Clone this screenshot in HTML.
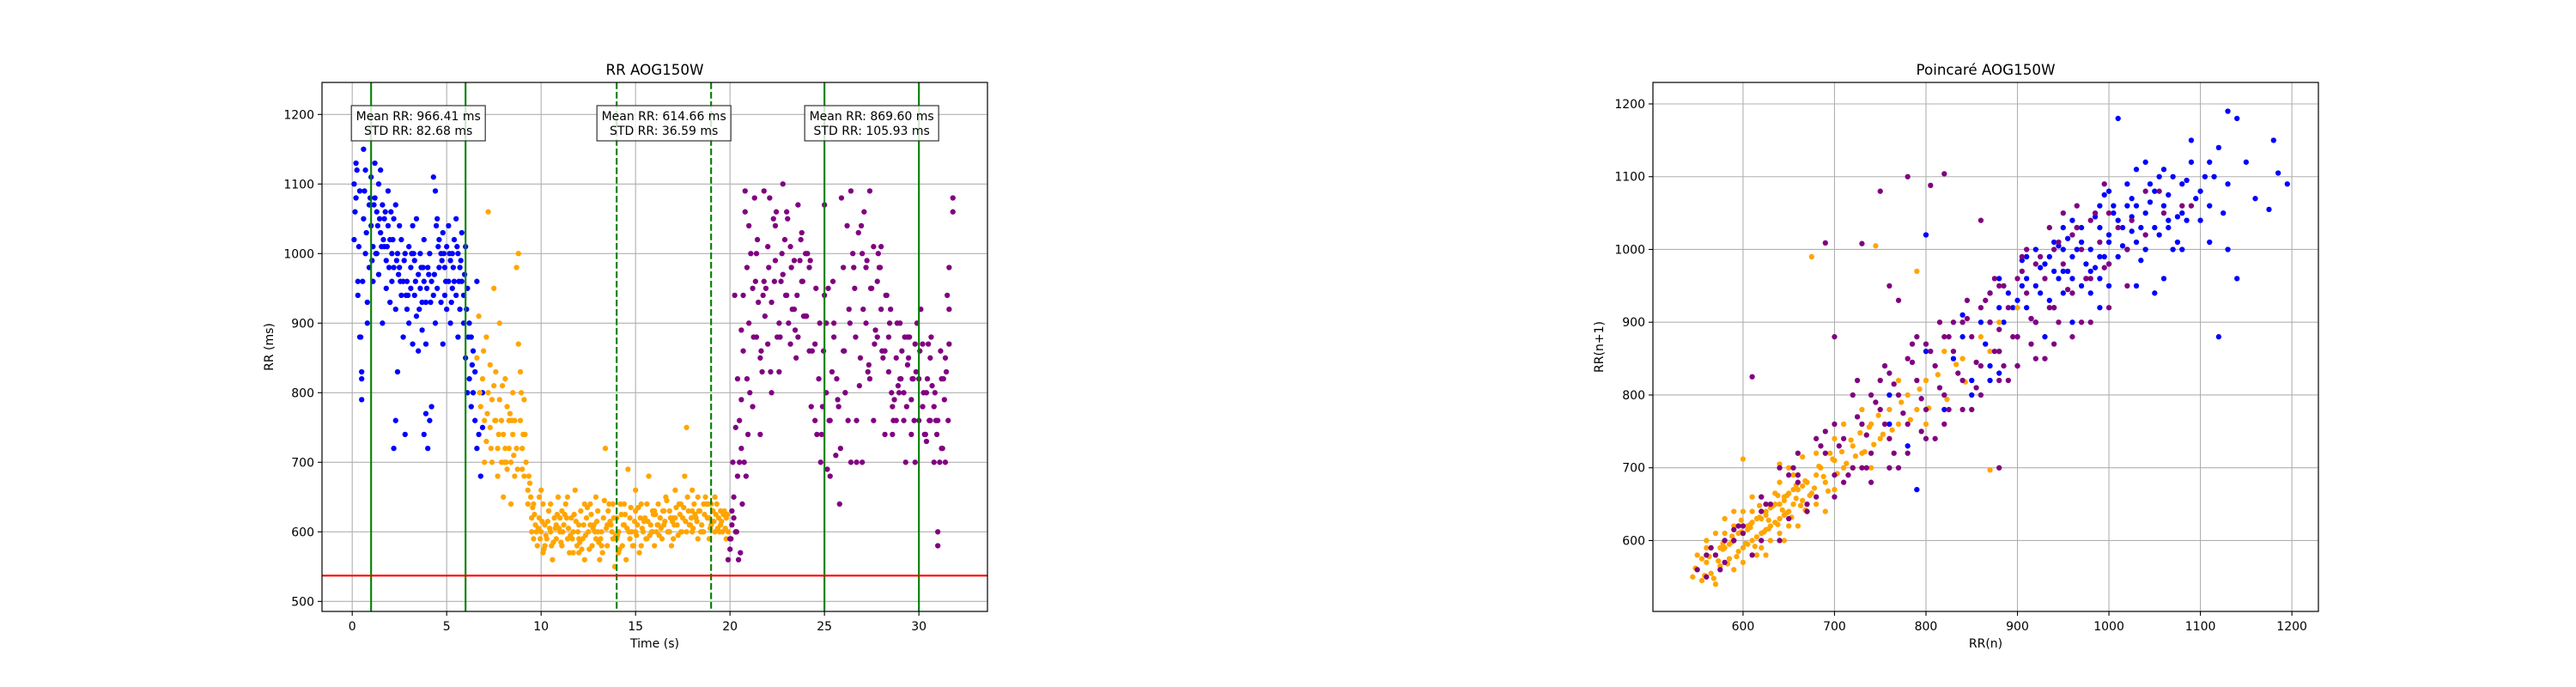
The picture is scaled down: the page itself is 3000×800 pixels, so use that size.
<!DOCTYPE html>
<html><head><meta charset="utf-8"><title>RR AOG150W</title>
<style>
html,body{margin:0;padding:0;background:#fff;}
svg{display:block;font-family:"DejaVu Sans","Liberation Sans",sans-serif;}
</style></head>
<body>
<svg id="fig" width="3000" height="800" viewBox="0 0 3000 800" xmlns="http://www.w3.org/2000/svg">
<rect width="3000" height="800" fill="#fff"/>
<g id="left"></g>
<g id="right"></g>
</svg>
<script>
// ---- RR time series data ----
const blueT=[0.1,0.1,0.2,0.2,0.3,0.3,0.4,0.4,0.5,0.5,0.6,0.6,0.7,0.7,0.8,0.8,0.9,0.9,1.0,1.0,1.1,1.1,1.2,1.2,1.3,1.3,1.4,1.4,1.5,1.5,1.6,1.6,1.7,1.7,1.8,1.8,1.9,1.9,2.0,2.0,2.1,2.1,2.2,2.2,2.3,2.3,2.4,2.4,2.5,2.5,2.6,2.6,2.7,2.7,2.8,2.8,2.9,2.9,3.0,3.0,3.1,3.1,3.2,3.2,3.3,3.3,3.4,3.4,3.5,3.5,3.6,3.6,3.7,3.7,3.8,3.8,3.9,3.9,4.0,4.0,4.1,4.1,4.2,4.2,4.3,4.3,4.4,4.4,4.5,4.5,4.6,4.6,4.7,4.7,4.8,4.8,4.9,4.9,5.0,5.0,5.1,5.1,5.2,5.2,5.3,5.3,5.4,5.4,5.5,5.5,5.6,5.6,5.7,5.7,5.8,5.8,5.9,5.9,6.0,6.0,6.1,6.1,6.2,6.2,6.3,6.3,6.4,6.4,6.5,6.5,6.6,6.6,6.7,6.8,6.9,6.9,2.2,2.3,3.8,3.9,0.45,0.5];
const blueRR=[1100,1020,1130,1080,960,940,1090,880,820,790,1150,1050,1120,1000,930,900,1070,980,1110,1040,1010,960,1130,1080,1060,1000,1100,970,1120,1030,1070,900,1050,1010,990,950,1040,1090,1020,930,1000,960,1050,980,1070,920,1000,830,980,1040,940,1020,960,880,1000,740,960,920,1010,900,980,950,1040,870,940,990,1050,910,970,860,1000,950,930,890,960,1020,930,870,980,720,1000,760,960,780,940,1110,900,1090,1050,950,1020,980,1000,930,1030,870,980,940,1010,920,960,1040,990,900,1000,950,1020,960,1050,940,1000,880,980,920,1030,960,940,900,1010,850,950,800,900,820,880,780,860,800,760,830,960,720,740,680,800,750,720,760,740,770,880,830];
const blueT2=[0.15,0.35,0.55,0.75,0.95,1.15,1.35,1.55,1.75,1.95,2.15,2.35,2.55,2.75,2.95,3.15,3.35,3.55,3.75,3.95,4.15,4.35,4.55,4.75,4.95,5.15,5.35,5.55,5.75,5.95,6.15,6.35,1.25,1.45,1.65,2.05,2.45,2.85,3.25,3.65,4.05,4.45,4.85,5.25,5.65,6.05,0.25,0.65,1.05,1.85];
const blueRR2=[1060,1010,960,1030,1080,1070,1040,1010,1060,980,1020,990,960,990,940,1000,960,920,980,950,930,970,1010,990,960,1000,980,1010,990,970,880,840,1000,1050,1020,1060,970,940,1000,980,970,1040,1000,930,960,920,1120,1090,990,1010];
const orangeT=[6.6,6.7,6.8,6.9,7.0,7.0,7.1,7.1,7.2,7.2,7.3,7.3,7.4,7.4,7.5,7.5,7.6,7.6,7.7,7.7,7.8,7.8,7.9,7.9,8.0,8.0,8.1,8.1,8.2,8.2,8.3,8.3,8.4,8.4,8.5,8.5,8.6,8.6,8.7,8.7,8.8,8.8,8.9,8.9,9.0,9.0,9.1,9.1,9.2,9.3,9.3,9.4,9.5,9.5,9.6,9.7,9.8,9.9,10.0,10.1,10.1,10.2,10.3,10.4,10.5,10.6,10.7,10.8,10.9,11.0,11.1,11.2,11.3,11.4,11.5,11.6,11.7,11.8,11.9,12.0,12.1,12.2,12.3,12.4,12.5,12.6,12.7,12.8,12.9,13.0,13.1,13.2,13.3,13.4,13.5,13.6,13.7,13.8,13.9,14.0,14.1,14.2,14.3,14.4,14.5,14.6,14.7,14.8,14.9,15.0,15.1,15.2,15.3,15.4,15.5,15.6,15.7,15.8,15.9,16.0,16.1,16.2,16.3,16.4,16.5,16.6,16.7,16.8,16.9,17.0,17.1,17.2,17.3,17.4,17.5,17.6,17.7,17.8,17.9,18.0,18.1,18.2,18.3,18.4,18.5,18.6,18.7,18.8,18.9,19.0,19.1,19.2,19.3,19.4,19.5,19.6,19.7,19.8,19.9,9.6,9.9,10.2,10.5,10.8,11.1,11.4,11.7,12.0,12.3,12.6,12.9,13.2,13.5,13.8,14.1,14.4,14.7,15.0,15.3,15.6,15.9,16.2,16.5,16.8,17.1,17.4,17.7,18.0,18.3,18.6,18.9,19.2,19.5,19.8,10.0,11.0,12.0,13.0,14.0,15.0,16.0,17.0,18.0,19.0,10.35,10.65,10.95,11.25,11.55,11.85,12.15,12.45,12.75,13.05,13.35,13.65,13.95,14.25,14.55,14.85,15.15,15.45,15.75,16.05,16.35,16.65,16.95,17.25,17.55,17.85,18.15,18.45,18.75,19.05,19.35,19.65];
const orangeRR=[850,910,780,820,760,700,880,730,1060,800,840,750,790,700,950,810,830,760,720,680,900,790,760,700,740,650,820,720,780,690,760,720,700,640,800,740,760,680,980,720,1000,870,830,760,720,690,790,680,700,660,640,670,620,600,640,610,580,620,600,640,570,610,590,630,600,560,620,590,650,600,580,610,640,590,570,620,600,660,580,610,630,590,560,620,600,640,580,610,590,630,560,600,620,720,580,640,610,590,550,620,600,640,580,610,560,690,620,600,580,630,610,570,640,600,620,590,680,610,630,580,600,640,620,590,610,650,600,630,580,620,660,610,640,600,620,680,750,630,610,600,640,620,590,630,610,600,650,620,590,610,630,600,640,620,610,600,630,620,600,590,650,580,640,610,630,650,570,590,640,610,650,580,610,640,570,640,590,600,580,640,600,610,630,600,620,640,600,630,650,640,620,650,630,590,660,620,570,600,590,660,630,590,660,640,615,585,605,625,595,615,575,635,605,585,645,615,595,625,605,580,635,615,595,625,605,645,615,595,635,610,625,600,640,615,605,625];
const orangeT2=[6.75,6.95,7.15,7.35,7.55,7.75,7.95,8.15,8.35,8.55,8.75,8.95,9.15,9.35,9.45,9.55,9.65,9.75,9.85,9.95,10.05,10.15,10.25,10.45,10.55,10.75,10.85,11.05,11.15,11.35,11.45,11.65,11.75,11.95,12.05,12.25,12.35,12.55,12.65,12.85,12.95,13.15,13.25,13.45,13.55,13.75,13.85,14.05,14.15,14.35,14.45,14.65,14.75,14.95,15.05,15.25,15.35,15.55,15.65,15.85,15.95,16.15,16.25,16.45,16.55,16.75,16.85,17.05,17.15,17.35,17.45,17.65,17.75,17.95,18.05,18.25,18.35,18.55,18.65,18.85,18.95,19.15,19.25,19.45,19.55,19.75,19.85,9.05,8.45,8.05];
const orangeRR2=[800,860,770,720,760,740,810,700,770,710,690,800,740,680,650,635,625,600,605,590,615,575,595,605,580,605,625,585,600,620,605,590,625,600,585,610,595,575,625,600,615,590,570,605,630,600,620,595,575,610,625,600,635,615,595,620,605,590,615,600,625,610,595,630,615,600,620,610,635,625,600,615,650,620,605,615,630,600,625,640,605,615,625,600,615,605,625,740,760,700];
const purpleT=[19.9,20.0,20.0,20.1,20.1,20.2,20.2,20.3,20.4,20.5,20.5,20.6,20.6,20.7,20.7,20.8,20.8,20.9,20.9,21.0,21.0,21.2,21.2,21.4,21.4,21.6,21.6,21.8,21.8,22.0,22.0,22.2,22.2,22.4,22.4,22.6,22.6,22.8,22.8,23.0,23.0,23.2,23.2,23.4,23.4,23.6,23.6,23.8,23.8,24.0,24.0,24.2,24.2,24.5,24.5,24.6,24.7,24.8,24.9,25.0,25.0,25.1,25.1,25.2,25.3,25.3,25.4,25.5,25.6,25.7,25.8,25.9,26.0,26.0,26.1,26.2,26.3,26.4,26.5,26.6,26.7,26.8,26.9,27.0,27.0,27.2,27.2,27.4,27.4,27.6,27.6,27.8,27.8,28.0,28.0,28.2,28.2,28.4,28.4,28.6,28.6,28.8,28.8,29.0,29.0,29.2,29.2,29.4,29.4,29.6,29.6,29.8,29.8,30.0,30.0,30.2,30.2,30.4,30.4,30.6,30.6,30.8,30.8,31.0,31.0,31.0,31.2,31.2,31.4,31.4,31.6,31.6,31.8,31.8,31.6,21.1,21.3,22.1,23.1,24.1,26.4,27.1,28.1,29.1,30.1,21.5,21.7,21.9,22.3,22.5,22.7,22.9,23.3,23.5,23.7,23.9,24.3,25.5,26.1,26.7,27.3,27.5,27.7,27.9,28.3,28.5,28.7,28.9,29.3,29.5,29.7,29.9,30.3,30.5,30.7,30.9,31.1,31.3,31.5,20.3,20.4,20.6];
const purpleRR=[560,575,590,610,630,620,650,600,680,700,760,720,790,860,940,1060,1090,980,820,1040,900,780,950,1000,880,850,740,1090,960,1010,870,800,930,1040,990,900,830,1100,970,1060,940,870,1010,990,920,1070,880,960,1030,1000,910,980,860,870,760,740,820,700,780,1070,940,900,800,950,680,760,830,880,710,790,640,1080,980,860,800,1040,920,700,1000,950,760,1030,850,700,1000,980,900,1090,820,1010,760,960,880,1010,920,860,740,830,880,780,740,850,760,900,820,760,800,880,840,740,790,870,700,760,820,870,780,800,730,850,760,780,700,760,600,580,820,720,850,700,920,980,1060,1080,870,1000,1080,1080,900,1000,1090,1060,850,860,920,930,830,950,1050,880,960,1020,920,850,990,910,780,900,800,700,830,950,890,980,940,920,790,810,700,880,820,900,740,870,810,760,700,820,940,750,820,890,560,570];
const purpleT2=[20.45,20.55,20.65,20.75,20.85,20.95,21.05,21.25,21.35,21.45,21.65,21.75,21.85,22.05,22.15,22.35,22.45,22.65,22.75,22.95,23.05,23.25,23.45,23.55,23.75,23.85,24.05,24.25,24.35,24.55,24.75,24.85,24.95,25.15,25.25,25.45,25.65,25.75,25.85,26.05,26.25,26.35,26.55,26.65,26.85,26.95,27.05,27.25,27.35,27.45,27.65,27.85,27.95,28.05,28.25,28.45,28.55,28.65,28.85,28.95,29.05,29.25,29.35,29.45,29.65,29.75,29.85,30.05,30.25,30.35,30.45,30.55,30.65,30.85,30.95,31.15,31.25,31.35,31.45,31.55,20.15,20.25,20.35,20.05];
const purpleRR2=[640,700,680,740,800,880,960,1020,860,940,910,980,830,960,1060,880,1000,940,1050,980,890,940,1020,960,910,990,860,950,900,740,860,690,760,960,820,780,720,860,760,900,980,880,810,1040,920,990,840,950,870,1000,980,860,940,900,800,760,900,800,820,880,780,850,820,760,830,860,800,740,820,760,880,800,740,860,720,790,830,760,700,940,600,590,640,580];
// ---- Poincaré data ----
const pBlueX=[760,780,800,820,840,850,860,870,880,880,890,900,900,910,920,920,930,940,940,950,950,960,960,970,970,980,980,990,990,1000,1000,1010,1010,1020,1020,1030,1040,1040,1050,1050,1060,1070,1070,1080,1090,1100,1110,1120,1130,1140,1150,1180,1185,1195,1175,1160,1090,1110,1120,1010,1050,990,960,930,900,870,850,830,880,920,960,1000,1030,1080,1060,1030,990,950,910,870,840,980,1000,1020,1040,1060,1110,1130,1100,1080,940,970,1000,1030,880,1140,1130,800,790,760,870,910,950,990,1025,1065];
const pBlueY=[800,730,860,780,880,820,900,840,920,860,940,880,930,960,900,950,980,920,970,1000,940,990,960,1010,950,1000,970,1030,960,1010,980,1040,990,1060,1000,1010,1050,1000,1080,1030,1060,1000,1100,1050,1120,1080,1060,1140,1190,1180,1120,1150,1105,1090,1055,1070,1150,1010,880,1180,940,920,900,880,840,820,800,850,960,1000,1040,1080,1110,1000,960,950,1060,1030,990,940,910,940,950,1090,1120,1110,1120,1090,1040,1090,1010,1030,1020,1060,830,960,1000,1020,670,760,900,920,970,990,1025,1040];
const pBlueX2=[905,915,925,935,945,955,965,975,985,995,1005,1015,1025,1035,1045,1055,1065,1075,1085,1095,935,955,975,995,1015,1035,1055,1075,965,985,1005,1025,945,925,905,895,885,865,1045,1065,1105,1125,1085,1115];
const pBlueY2=[950,905,975,930,1005,970,1030,980,1045,990,1050,1005,1070,1030,1065,1020,1075,1045,1095,1070,990,1015,960,1075,1030,985,1100,1010,1000,975,1060,1045,960,940,985,920,900,870,1090,1030,1100,1050,1040,1100];
const pOrangeX=[545,555,560,565,570,575,580,585,590,595,600,600,605,610,610,615,620,620,625,630,630,635,640,640,645,650,650,655,660,665,670,675,680,685,690,700,710,720,730,740,750,760,770,780,790,800,820,840,860,870,880,900,580,600,620,640,560,590,610,630,650,670,660,680,700,720,620,600,680,700,660,640,560,550,570,590,615,635,655,695,710,730,650,690,610,580,675,665,640,745,790,870,800,760,820,740,770,600,590,625,645,570,555,585,605,625,645,665,575,595,615,635,655,605,625,645];
const pOrangeY=[550,545,570,555,580,565,590,575,600,585,610,590,620,600,625,605,630,610,640,620,645,625,650,630,660,640,665,650,670,655,680,665,690,700,680,710,700,730,720,760,740,780,760,800,780,820,800,850,880,860,900,920,610,570,590,610,590,560,640,600,620,640,690,650,670,700,660,640,720,740,620,680,600,580,540,620,580,665,690,720,760,780,700,640,660,630,990,715,705,1005,970,697,760,740,860,700,820,712,640,580,600,610,575,595,615,635,655,675,590,610,630,650,670,595,615,635];
const pOrangeX2=[548,558,563,568,573,578,583,588,593,598,603,608,613,618,623,628,633,638,643,648,653,658,663,668,673,678,683,688,693,698,703,708,713,718,723,728,733,738,743,748,753,763,773,783,793,803,813,823,833,843,598,608,618,628,638,648,658,668,588,578];
const pOrangeY2=[562,552,578,548,572,588,568,598,578,612,596,618,592,632,612,628,648,622,642,662,632,658,648,682,662,672,702,688,668,712,692,722,706,738,716,748,722,756,732,772,746,752,790,766,808,782,828,794,842,818,628,622,648,616,662,638,676,642,606,596];
const pPurpleX=[550,560,570,580,590,600,620,630,650,660,680,700,690,710,720,730,740,750,760,770,780,790,800,810,820,830,840,850,860,870,880,890,900,910,920,930,940,950,960,970,980,990,1000,1010,1020,1040,1060,1080,700,720,740,760,780,800,820,840,860,880,900,920,940,960,980,1000,1020,760,800,840,880,920,960,1000,680,660,700,740,780,820,860,900,940,980,640,620,610,650,670,690,710,730,750,770,790,810,830,850,870,890,910,930,950,970,750,780,820,805,690,730,610,670,860,590,560,575,1090,1040,760,770,700,880,880,600,640,580,620,660];
const pPurpleY=[560,550,580,570,600,610,600,650,630,680,660,690,720,740,700,760,720,780,740,800,760,820,780,840,800,860,820,880,840,900,860,920,880,940,900,960,920,980,940,1000,960,1010,980,1030,1000,1020,1050,1060,760,800,680,830,720,870,760,900,800,950,840,980,870,1020,900,1050,950,700,740,780,820,850,880,920,740,720,660,800,850,880,920,960,1000,1040,700,660,580,690,640,750,680,700,820,700,880,740,900,780,940,820,1000,850,1050,900,1080,1100,1104,1088,1009,1008,825,650,1040,615,580,560,1060,1080,950,930,880,700,890,620,600,600,640,690];
const pPurpleX2=[705,715,725,735,745,755,765,775,785,795,805,815,825,835,845,855,865,875,885,895,905,915,925,935,945,955,965,975,985,995,725,755,785,815,845,875,905,935,965,995,1025,1055,735,765,795,825,855,885,915,945,565,595,625,655,685];
const pPurpleY2=[730,690,770,745,790,760,815,775,845,795,860,810,880,830,905,845,930,860,950,880,970,905,990,920,1010,945,1030,960,1050,975,820,840,870,900,930,960,990,1030,1060,1090,1040,1080,700,720,750,780,810,840,870,900,590,620,650,700,730];

const NS='http://www.w3.org/2000/svg';
function mk(parent,tag,attrs){const e=document.createElementNS(NS,tag);for(const k in attrs)e.setAttribute(k,attrs[k]);parent.appendChild(e);return e;}
function txt(parent,x,y,s,size,anchor,extra){const e=mk(parent,'text',Object.assign({x:x,y:y,'font-size':size,'text-anchor':anchor||'middle',fill:'#000'},extra||{}));e.textContent=s;return e;}

function buildAxes(g,box,xd,yd,xt,yt,title,xl,yl,ylx){
  const sx=v=>box.x0+(v-xd[0])/(xd[1]-xd[0])*(box.x1-box.x0);
  const sy=v=>box.y1-(v-yd[0])/(yd[1]-yd[0])*(box.y1-box.y0);
  const grid=mk(g,'g',{});
  
  
  xt.forEach(v=>{const x=sx(v);mk(grid,'line',{x1:x,x2:x,y1:box.y0,y2:box.y1,stroke:'#b0b0b0','stroke-width':1.1});
    mk(g,'line',{x1:x,x2:x,y1:box.y1,y2:box.y1+5,stroke:'#000','stroke-width':1.1});
    const t=txt(g,x,box.y1+22,String(v),14,'middle');
    
    });
  yt.forEach(v=>{const y=sy(v);mk(grid,'line',{x1:box.x0,x2:box.x1,y1:y,y2:y,stroke:'#b0b0b0','stroke-width':1.1});
    mk(g,'line',{x1:box.x0-5,x2:box.x0,y1:y,y2:y,stroke:'#000','stroke-width':1.1});
    const t=txt(g,box.x0-9,y+5,String(v),14,'end');
    
    });
  const tt=txt(g,(box.x0+box.x1)/2,box.y0-9,title,16.7,'middle');
  
  
  const xa=txt(g,(box.x0+box.x1)/2,box.y1+42,xl,14,'middle');
  
  
  const ya=txt(g,ylx,(box.y0+box.y1)/2,yl,14,'middle',{transform:`rotate(-90 ${ylx} ${(box.y0+box.y1)/2})`});
  
  
  return {sx,sy};
}
function frame(g,box){const f=mk(g,'rect',{x:box.x0,y:box.y0,width:box.x1-box.x0,height:box.y1-box.y0,fill:'none',stroke:'#000','stroke-width':1.2});
  
  }
function scatter(g,xs,ys,sx,sy,color,name,box){
  const s=mk(g,'g',{fill:color});
  
  
  for(let i=0;i<xs.length;i++){const cx=sx(xs[i]),cy=sy(ys[i]);
    if(cx<box.x0||cx>box.x1||cy<box.y0||cy>box.y1)continue;
    const c=mk(s,'circle',{cx:cx,cy:cy,r:3.15});
    
    }
}

// ---- Left chart ----
const L=document.getElementById('left');
const boxL={x0:375,x1:1150,y0:96,y1:712};
const xTicksL=[0,5,10,15,20,25,30];
const yTicksL=[500,600,700,800,900,1000,1100,1200];
const segLines=[1,6,14,19,25,30];
const segDashed=[false,false,true,true,false,false];
const thresholdRR=537;
const statCenters=[3.5,16.5,27.5];
const statMeans=['966.41','614.66','869.60'];
const statStds=['82.68','36.59','105.93'];
const aL=buildAxes(L,boxL,[-1.6,33.63],[485.6,1246],xTicksL,yTicksL,'RR AOG150W','Time (s)','RR (ms)',318);
scatter(L,blueT.concat(blueT2),blueRR.concat(blueRR2),aL.sx,aL.sy,'#0000ff','blue-series',boxL);
scatter(L,orangeT.concat(orangeT2),orangeRR.concat(orangeRR2),aL.sx,aL.sy,'#ffa500','orange-series',boxL);
scatter(L,purpleT.concat(purpleT2),purpleRR.concat(purpleRR2),aL.sx,aL.sy,'#800080','purple-series',boxL);
segLines.forEach((v,i)=>{const x=aL.sx(v);const ln=mk(L,'line',{x1:x,x2:x,y1:boxL.y0,y2:boxL.y1,stroke:'#008000','stroke-width':2.1});
  if(segDashed[i])ln.setAttribute('stroke-dasharray','7.7 3.3');
  
  });
{const y=aL.sy(thresholdRR);const r=mk(L,'line',{x1:boxL.x0,x2:boxL.x1,y1:y,y2:y,stroke:'#ff0000','stroke-width':2.1});
  
  }
statCenters.forEach((c,i)=>{const cx=aL.sx(c);const g=mk(L,'g',{});
  
  
  mk(g,'rect',{x:cx-78,y:123,width:156,height:41,fill:'#fff','fill-opacity':0.8,stroke:'#333','stroke-width':1.2});
  txt(g,cx,140,'Mean RR: '+statMeans[i]+' ms',14,'middle');
  txt(g,cx,157,'STD RR: '+statStds[i]+' ms',14,'middle');});
frame(L,boxL);

// ---- Right chart ----
const R=document.getElementById('right');
const boxR={x0:1925,x1:2700,y0:96,y1:712};
const xTicksR=[600,700,800,900,1000,1100,1200];
const yTicksR=[600,700,800,900,1000,1100,1200];
const aR=buildAxes(R,boxR,[501.5,1229],[502.6,1229.5],xTicksR,yTicksR,'Poincaré AOG150W','RR(n)','RR(n+1)',1867);
scatter(R,pBlueX.concat(pBlueX2),pBlueY.concat(pBlueY2),aR.sx,aR.sy,'#0000ff','poincare-blue',boxR);
scatter(R,pOrangeX.concat(pOrangeX2),pOrangeY.concat(pOrangeY2),aR.sx,aR.sy,'#ffa500','poincare-orange',boxR);
scatter(R,pPurpleX.concat(pPurpleX2),pPurpleY.concat(pPurpleY2),aR.sx,aR.sy,'#800080','poincare-purple',boxR);
frame(R,boxR);
</script>
</body></html>
